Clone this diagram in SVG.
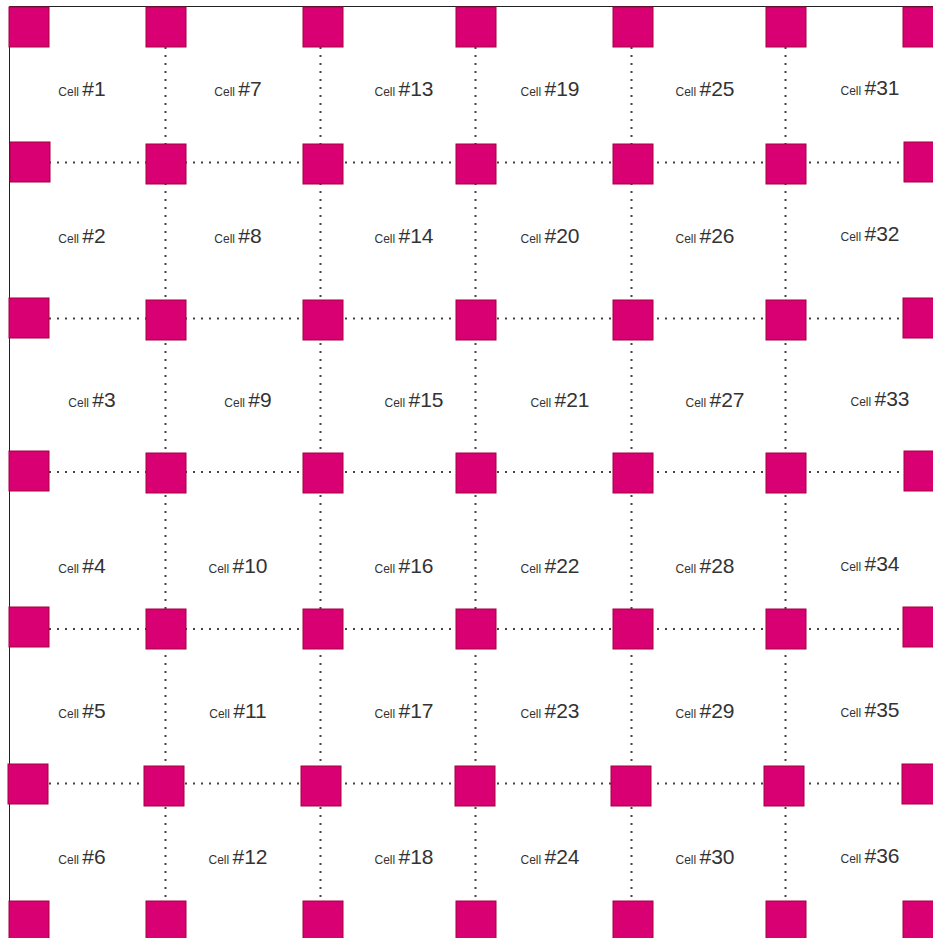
<svg xmlns="http://www.w3.org/2000/svg" width="933" height="938" viewBox="0 0 933 938">
<style>
.sq{fill:#d80073;stroke:#a50040;stroke-width:1}
.dl{stroke:#444;stroke-width:2;stroke-dasharray:2 6;fill:none}
.fr{stroke:#222;stroke-width:1;fill:none}
.lb{font-family:"Liberation Sans",Arial,sans-serif;fill:#333;text-anchor:middle}
.s{font-size:12px}
.b{font-size:21px}
</style>
<rect x="0" y="0" width="933" height="938" fill="#fff"/>
<path class="fr" d="M9.5 938V6.5H933"/>
<g id="connectors">
<path class="dl" d="M49 162.5H903M49 318.5H903M49 472H903M49 629H903M49 783.5H903"/>
<path class="dl" d="M165.5 47V901M320.5 47V901M475.5 47V901M631.5 47V901M785.5 47V901"/>
</g>
<g id="squares">
<g id="n0-0"><rect class="sq" x="9" y="7" width="40" height="40"/></g>
<g id="n0-1"><rect class="sq" x="146" y="7" width="40" height="40"/></g>
<g id="n0-2"><rect class="sq" x="303" y="7" width="40" height="40"/></g>
<g id="n0-3"><rect class="sq" x="456" y="7" width="40" height="40"/></g>
<g id="n0-4"><rect class="sq" x="613" y="7" width="40" height="40"/></g>
<g id="n0-5"><rect class="sq" x="766" y="7" width="40" height="40"/></g>
<g id="n0-6"><rect class="sq" x="903" y="7" width="40" height="40"/></g>
<g id="n1-0"><rect class="sq" x="10" y="142" width="40" height="40"/></g>
<g id="n1-1"><rect class="sq" x="146" y="144" width="40" height="40"/></g>
<g id="n1-2"><rect class="sq" x="303" y="144" width="40" height="40"/></g>
<g id="n1-3"><rect class="sq" x="456" y="144" width="40" height="40"/></g>
<g id="n1-4"><rect class="sq" x="613" y="144" width="40" height="40"/></g>
<g id="n1-5"><rect class="sq" x="766" y="144" width="40" height="40"/></g>
<g id="n1-6"><rect class="sq" x="904" y="142" width="40" height="40"/></g>
<g id="n2-0"><rect class="sq" x="9" y="298" width="40" height="40"/></g>
<g id="n2-1"><rect class="sq" x="146" y="300" width="40" height="40"/></g>
<g id="n2-2"><rect class="sq" x="303" y="300" width="40" height="40"/></g>
<g id="n2-3"><rect class="sq" x="456" y="300" width="40" height="40"/></g>
<g id="n2-4"><rect class="sq" x="613" y="300" width="40" height="40"/></g>
<g id="n2-5"><rect class="sq" x="766" y="300" width="40" height="40"/></g>
<g id="n2-6"><rect class="sq" x="903" y="298" width="40" height="40"/></g>
<g id="n3-0"><rect class="sq" x="9" y="451" width="40" height="40"/></g>
<g id="n3-1"><rect class="sq" x="146" y="453" width="40" height="40"/></g>
<g id="n3-2"><rect class="sq" x="303" y="453" width="40" height="40"/></g>
<g id="n3-3"><rect class="sq" x="456" y="453" width="40" height="40"/></g>
<g id="n3-4"><rect class="sq" x="613" y="453" width="40" height="40"/></g>
<g id="n3-5"><rect class="sq" x="766" y="453" width="40" height="40"/></g>
<g id="n3-6"><rect class="sq" x="904" y="451" width="40" height="40"/></g>
<g id="n4-0"><rect class="sq" x="9" y="607" width="40" height="40"/></g>
<g id="n4-1"><rect class="sq" x="146" y="609" width="40" height="40"/></g>
<g id="n4-2"><rect class="sq" x="303" y="609" width="40" height="40"/></g>
<g id="n4-3"><rect class="sq" x="456" y="609" width="40" height="40"/></g>
<g id="n4-4"><rect class="sq" x="613" y="609" width="40" height="40"/></g>
<g id="n4-5"><rect class="sq" x="766" y="609" width="40" height="40"/></g>
<g id="n4-6"><rect class="sq" x="903" y="607" width="40" height="40"/></g>
<g id="n5-0"><rect class="sq" x="8" y="764" width="40" height="40"/></g>
<g id="n5-1"><rect class="sq" x="144" y="766" width="40" height="40"/></g>
<g id="n5-2"><rect class="sq" x="301" y="766" width="40" height="40"/></g>
<g id="n5-3"><rect class="sq" x="455" y="766" width="40" height="40"/></g>
<g id="n5-4"><rect class="sq" x="611" y="766" width="40" height="40"/></g>
<g id="n5-5"><rect class="sq" x="764" y="766" width="40" height="40"/></g>
<g id="n5-6"><rect class="sq" x="902" y="764" width="40" height="40"/></g>
<g id="n6-0"><rect class="sq" x="9" y="901" width="40" height="40"/></g>
<g id="n6-1"><rect class="sq" x="146" y="901" width="40" height="40"/></g>
<g id="n6-2"><rect class="sq" x="303" y="901" width="40" height="40"/></g>
<g id="n6-3"><rect class="sq" x="456" y="901" width="40" height="40"/></g>
<g id="n6-4"><rect class="sq" x="613" y="901" width="40" height="40"/></g>
<g id="n6-5"><rect class="sq" x="766" y="901" width="40" height="40"/></g>
<g id="n6-6"><rect class="sq" x="903" y="901" width="40" height="40"/></g>
</g>
<g id="labels">
<g id="cell1"><text class="lb" x="82" y="96"><tspan class="s">Cell </tspan><tspan class="b">#1</tspan></text></g>
<g id="cell2"><text class="lb" x="82" y="243"><tspan class="s">Cell </tspan><tspan class="b">#2</tspan></text></g>
<g id="cell3"><text class="lb" x="92" y="407"><tspan class="s">Cell </tspan><tspan class="b">#3</tspan></text></g>
<g id="cell4"><text class="lb" x="82" y="573"><tspan class="s">Cell </tspan><tspan class="b">#4</tspan></text></g>
<g id="cell5"><text class="lb" x="82" y="718"><tspan class="s">Cell </tspan><tspan class="b">#5</tspan></text></g>
<g id="cell6"><text class="lb" x="82" y="864"><tspan class="s">Cell </tspan><tspan class="b">#6</tspan></text></g>
<g id="cell7"><text class="lb" x="238" y="96"><tspan class="s">Cell </tspan><tspan class="b">#7</tspan></text></g>
<g id="cell8"><text class="lb" x="238" y="243"><tspan class="s">Cell </tspan><tspan class="b">#8</tspan></text></g>
<g id="cell9"><text class="lb" x="248" y="407"><tspan class="s">Cell </tspan><tspan class="b">#9</tspan></text></g>
<g id="cell10"><text class="lb" x="238" y="573"><tspan class="s">Cell </tspan><tspan class="b">#10</tspan></text></g>
<g id="cell11"><text class="lb" x="238" y="718"><tspan class="s">Cell </tspan><tspan class="b">#11</tspan></text></g>
<g id="cell12"><text class="lb" x="238" y="864"><tspan class="s">Cell </tspan><tspan class="b">#12</tspan></text></g>
<g id="cell13"><text class="lb" x="404" y="96"><tspan class="s">Cell </tspan><tspan class="b">#13</tspan></text></g>
<g id="cell14"><text class="lb" x="404" y="243"><tspan class="s">Cell </tspan><tspan class="b">#14</tspan></text></g>
<g id="cell15"><text class="lb" x="414" y="407"><tspan class="s">Cell </tspan><tspan class="b">#15</tspan></text></g>
<g id="cell16"><text class="lb" x="404" y="573"><tspan class="s">Cell </tspan><tspan class="b">#16</tspan></text></g>
<g id="cell17"><text class="lb" x="404" y="718"><tspan class="s">Cell </tspan><tspan class="b">#17</tspan></text></g>
<g id="cell18"><text class="lb" x="404" y="864"><tspan class="s">Cell </tspan><tspan class="b">#18</tspan></text></g>
<g id="cell19"><text class="lb" x="550" y="96"><tspan class="s">Cell </tspan><tspan class="b">#19</tspan></text></g>
<g id="cell20"><text class="lb" x="550" y="243"><tspan class="s">Cell </tspan><tspan class="b">#20</tspan></text></g>
<g id="cell21"><text class="lb" x="560" y="407"><tspan class="s">Cell </tspan><tspan class="b">#21</tspan></text></g>
<g id="cell22"><text class="lb" x="550" y="573"><tspan class="s">Cell </tspan><tspan class="b">#22</tspan></text></g>
<g id="cell23"><text class="lb" x="550" y="718"><tspan class="s">Cell </tspan><tspan class="b">#23</tspan></text></g>
<g id="cell24"><text class="lb" x="550" y="864"><tspan class="s">Cell </tspan><tspan class="b">#24</tspan></text></g>
<g id="cell25"><text class="lb" x="705" y="96"><tspan class="s">Cell </tspan><tspan class="b">#25</tspan></text></g>
<g id="cell26"><text class="lb" x="705" y="243"><tspan class="s">Cell </tspan><tspan class="b">#26</tspan></text></g>
<g id="cell27"><text class="lb" x="715" y="407"><tspan class="s">Cell </tspan><tspan class="b">#27</tspan></text></g>
<g id="cell28"><text class="lb" x="705" y="573"><tspan class="s">Cell </tspan><tspan class="b">#28</tspan></text></g>
<g id="cell29"><text class="lb" x="705" y="718"><tspan class="s">Cell </tspan><tspan class="b">#29</tspan></text></g>
<g id="cell30"><text class="lb" x="705" y="864"><tspan class="s">Cell </tspan><tspan class="b">#30</tspan></text></g>
<g id="cell31"><text class="lb" x="870" y="95"><tspan class="s">Cell </tspan><tspan class="b">#31</tspan></text></g>
<g id="cell32"><text class="lb" x="870" y="241"><tspan class="s">Cell </tspan><tspan class="b">#32</tspan></text></g>
<g id="cell33"><text class="lb" x="880" y="406"><tspan class="s">Cell </tspan><tspan class="b">#33</tspan></text></g>
<g id="cell34"><text class="lb" x="870" y="571"><tspan class="s">Cell </tspan><tspan class="b">#34</tspan></text></g>
<g id="cell35"><text class="lb" x="870" y="717"><tspan class="s">Cell </tspan><tspan class="b">#35</tspan></text></g>
<g id="cell36"><text class="lb" x="870" y="863"><tspan class="s">Cell </tspan><tspan class="b">#36</tspan></text></g>
</g>
</svg>
